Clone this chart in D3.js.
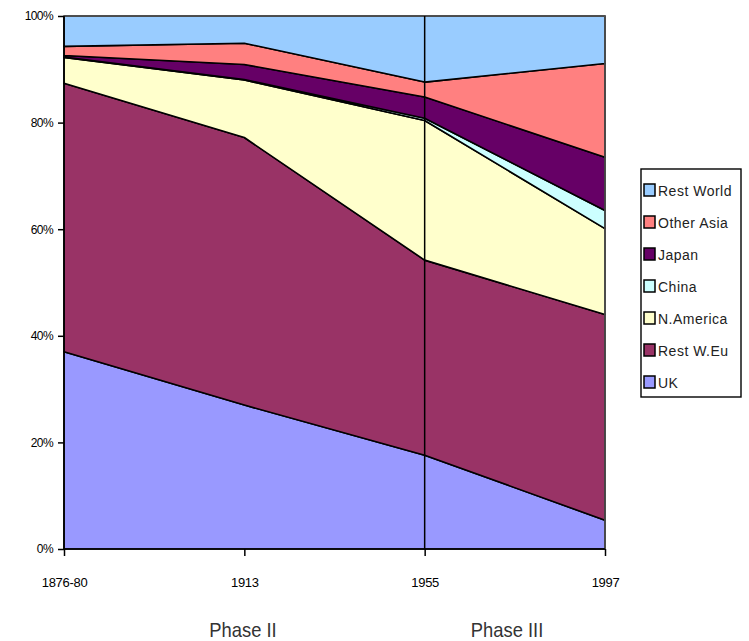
<!DOCTYPE html>
<html><head><meta charset="utf-8">
<script src="https://cdn.jsdelivr.net/npm/d3@7"></script>
<style>
html,body{margin:0;padding:0;background:#fff;}
svg{display:block;}
.lbl{font-family:"Liberation Sans",Arial,sans-serif;}
</style></head>
<body>
<svg id="chart" width="749" height="641"></svg>
<script>
const categories = ["1876-80", "1913", "1955", "1997"];
const seriesNames = ["UK", "Rest W.Eu", "N.America", "China", "Japan", "Other Asia", "Rest World"];
const ukValues        = [37.0, 27.0, 17.6, 5.4];
const restWEuValues   = [50.4, 50.2, 36.6, 38.6];
const nAmericaValues  = [4.8, 10.8, 26.2, 16.1];
const chinaValues     = [0.1, 0.1, 0.4, 3.4];
const japanValues     = [0.3, 2.8, 4.0, 10.0];
const otherAsiaValues = [1.7, 4.0, 2.8, 17.6];
const restWorldValues = [5.7, 5.1, 12.4, 8.9];
const yTickValues = [0, 20, 40, 60, 80, 100];
const phaseLabels = ["Phase II", "Phase III"];
const colors = ["#9999FF", "#993366", "#FFFFCC", "#CCFFFF", "#660066", "#FF8080", "#99CCFF"];

(function () {
const seriesArrays = [ukValues, restWEuValues, nAmericaValues, chinaValues, japanValues, otherAsiaValues, restWorldValues];
const table = categories.map((c, i) => {
  const row = {cat: c};
  seriesNames.forEach((s, k) => row[s] = seriesArrays[k][i]);
  return row;
});

const svg = d3.select("#chart");
const mLeft = 64, mRight = 605, mTop = 16, mBottom = 549;
const x = d3.scalePoint().domain(categories).range([mLeft, mRight]).padding(0);
const y = d3.scaleLinear().domain([0, 100]).range([mBottom, mTop]);
const color = d3.scaleOrdinal().domain(seriesNames).range(colors);

const layers = d3.stack().keys(seriesNames)(table);

const area = d3.area()
  .x(d => x(d.data.cat))
  .y0(d => y(d[0]))
  .y1(d => y(d[1]));

svg.append("g").selectAll("path").data(layers).join("path")
  .attr("d", area)
  .attr("fill", d => color(d.key))
  .attr("stroke", "#000")
  .attr("stroke-width", 1.6)
  .attr("stroke-linejoin", "round");

svg.append("path")
  .attr("d", `M${mLeft},${mTop}H${mRight}V${mBottom}`)
  .attr("fill", "none").attr("stroke", "#555").attr("stroke-width", 1.5);

svg.append("line")
  .attr("x1", x("1955")).attr("x2", x("1955"))
  .attr("y1", mTop).attr("y2", mBottom)
  .attr("stroke", "#000").attr("stroke-width", 1.5);

const yAxis = d3.axisLeft(y).tickValues(yTickValues).tickFormat(d => d + "%").tickSize(6).tickPadding(5);
const gy = svg.append("g").attr("transform", `translate(${mLeft},0)`).call(yAxis);
gy.select(".domain").attr("stroke", "#000").attr("stroke-width", 1.6).attr("d", `M0,${mBottom}V${mTop}`);
gy.selectAll(".tick line").attr("stroke", "#000").attr("stroke-width", 1.5);
gy.selectAll("text").attr("class", "lbl").attr("font-size", 12).attr("fill", "#000")
  .attr("letter-spacing", -0.6);

const xAxis = d3.axisBottom(x).tickSize(7).tickPadding(22);
const gx = svg.append("g").attr("transform", `translate(0,${mBottom})`).call(xAxis);
gx.select(".domain").attr("stroke", "#000").attr("stroke-width", 1.6).attr("d", `M${mLeft},0H${mRight}`);
gx.selectAll(".tick line").attr("stroke", "#000").attr("stroke-width", 1.5);
gx.selectAll("text").attr("class", "lbl").attr("font-size", 13).attr("fill", "#000")
  .attr("letter-spacing", -0.3);

const phaseX = [243, 507];
svg.append("g").selectAll("text").data(phaseLabels).join("text")
  .attr("class", "lbl")
  .attr("transform", (d, i) => `translate(${phaseX[i]},637) scale(0.92,1)`)
  .attr("text-anchor", "middle")
  .attr("font-size", 20).attr("fill", "#333")
  .text(d => d);

const legend = svg.append("g");
legend.append("rect").attr("x", 641).attr("y", 169).attr("width", 100).attr("height", 228)
  .attr("fill", "#fff").attr("stroke", "#000").attr("stroke-width", 1.4);
const legendItems = seriesNames.slice().reverse();
const li = legend.selectAll("g.item").data(legendItems).join("g").attr("class", "item")
  .attr("transform", (d, i) => `translate(644,${190 + i * 32})`);
li.append("rect").attr("x", 0).attr("y", -6).attr("width", 11).attr("height", 12)
  .attr("fill", d => color(d)).attr("stroke", "#000").attr("stroke-width", 1.5);
li.append("text").attr("class", "lbl").attr("x", 14).attr("y", 5.5)
  .attr("font-size", 14).attr("letter-spacing", 0.5).attr("fill", "#222").text(d => d);
})();
</script>
</body></html>
